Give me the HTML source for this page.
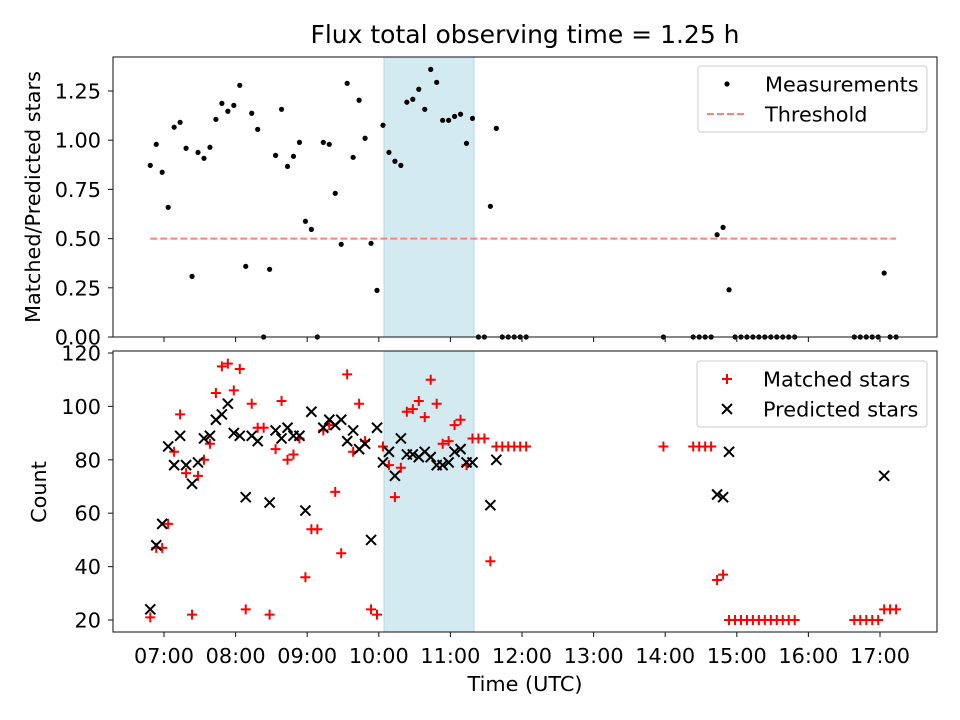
<!DOCTYPE html>
<html><head><meta charset="utf-8">
<style>
body{margin:0;background:#fff;}
svg{display:block;font-family:"DejaVu Sans","Liberation Sans",sans-serif;}
</style></head>
<body>
<svg id="chart" width="960" height="720" viewBox="0 0 960 720"></svg>
<script>
// minutes since midnight (UTC)
const times = [408.5,413.5,418.5,423.5,428.5,433.5,438.5,443.5,448.5,453.5,458.5,463.5,468.5,473.5,478.5,483.5,488.5,493.5,498.5,503.5,508.5,513.5,518.5,523.5,528.5,533.5,538.5,543.5,548.5,553.5,558.5,563.5,568.5,573.5,578.5,583.5,588.5,593.5,598.5,603.5,608.5,613.5,618.5,623.5,628.5,633.5,638.5,643.5,648.5,653.5,658.5,663.5,668.5,673.5,678.5,683.5,688.5,693.5,698.5,703.5,708.5,713.5,718.5,723.5,
838.5,
863.5,868.5,873.5,878.5,883.5,888.5,893.5,898.5,903.5,908.5,913.5,918.5,923.5,928.5,933.5,938.5,943.5,948.5,
998.5,1003.5,1008.5,1013.5,1018.5,1023.5,1028.5,1033.5];
const ratio = [0.872,0.979,0.837,0.659,1.066,1.091,0.959,0.308,0.938,0.908,0.964,1.106,1.187,1.147,1.177,1.279,0.359,1.137,1.055,0,0.344,0.923,1.157,0.867,0.918,0.989,0.588,0.547,0,0.989,0.979,0.730,0.471,1.289,0.913,1.203,1.010,0.476,0.237,1.076,0.938,0.893,0.872,1.193,1.208,1.259,1.157,1.360,1.294,1.101,1.101,1.121,1.132,0.984,1.111,0,0,0.664,1.060,0,0,0,0,0,
0,
0,0,0,0,0.52,0.557,0.24,0,0,0,0,0,0,0,0,0,0,0,
0,0,0,0,0,0.325,0,0];
const matched = [21,47,47,56,83,97,75,22,74,80,86,105,115,116,106,114,24,101,92,92,22,84,102,80,82,88,36,54,54,91,93,68,45,112,83,101,87,24,22,85,78,66,77,98,99,102,96,110,101,86,87,93,95,78,88,88,88,42,85,85,85,85,85,85,
85,
85,85,85,85,35,37,20,20,20,20,20,20,20,20,20,20,20,20,
20,20,20,20,20,24,24,24];
const predicted = [24,48,56,85,78,89,78,71,79,88,89,95,97,101,90,89,66,89,87,null,64,91,88,92,89,89,61,98,null,92,95,93,95,87,91,84,86,50,92,79,83,74,88,82,82,81,83,81,78,78,79,83,84,79,79,null,null,63,80,null,null,null,null,null,
null,
null,null,null,null,67,66,83,null,null,null,null,null,null,null,null,null,null,null,
null,null,null,null,null,74,null,null];
const threshold = [0.5];
const spanStart = [604.4];
const spanEnd = [679.8];
const xTicks = [420,480,540,600,660,720,780,840,900,960,1020];
const xTickLabels = ["07:00","08:00","09:00","10:00","11:00","12:00","13:00","14:00","15:00","16:00","17:00"];
const topTicks = [0,0.25,0.5,0.75,1.0,1.25];
const topTickLabels = ["0.00","0.25","0.50","0.75","1.00","1.25"];
const botTicks = [20,40,60,80,100,120];
const botTickLabels = ["20","40","60","80","100","120"];

const FS=20.8;
const NS="http://www.w3.org/2000/svg";
const svg=document.getElementById('chart');
function mk(tag,attrs,parent){const e=document.createElementNS(NS,tag);for(const k in attrs)e.setAttribute(k,attrs[k]);(parent||svg).appendChild(e);return e;}
const AX={l:113,r:937};
const T={t:57,b:337}, B={t:351,b:632};
function X(m){return 164+(m-420)/60*71.6;}
function YT(v){return 337-v*196.8;}
function YB(c){return 620-(c-20)*2.67;}

let t=mk('text',{x:525,y:43,'font-size':25,'text-anchor':'middle',fill:'#000'});t.textContent='Flux total observing time = 1.25 h';



function panel(P,name){
  const g=mk('g',{});
  
  
  mk('rect',{x:AX.l,y:P.t,width:AX.r-AX.l,height:P.b-P.t,fill:'#fff'},g);
  const sp=mk('rect',{x:X(spanStart[0]),y:P.t,width:X(spanEnd[0])-X(spanStart[0]),height:P.b-P.t,fill:'#d4eaf1',stroke:'#b3dbe6','stroke-width':1},g);
  
  
  return g;
}
function frame(P,g){
  mk('rect',{x:AX.l,y:P.t,width:AX.r-AX.l,height:P.b-P.t,fill:'none',stroke:'#222','stroke-width':1.1},g);
}
const gT=panel(T,'ratio-panel');
const th=mk('line',{x1:X(times[0]),x2:X(times[times.length-1]),y1:YT(threshold[0]),y2:YT(threshold[0]),stroke:'#ff7f7f','stroke-width':2,'stroke-dasharray':'7,3'},gT);


for(let i=0;i<times.length;i++){
  const c=mk('circle',{cx:X(times[i]),cy:YT(ratio[i]),r:2.6,fill:'#000'},gT);
  
  
}
frame(T,gT);
xTicks.forEach(m=>{mk('line',{x1:X(m),x2:X(m),y1:T.b,y2:T.b+5,stroke:'#222','stroke-width':1.1},gT);});
topTicks.forEach((v,i)=>{
  mk('line',{x1:AX.l-5,x2:AX.l,y1:YT(v),y2:YT(v),stroke:'#222','stroke-width':1.1},gT);
  const tx=mk('text',{x:AX.l-12,y:YT(v)+7.5,'font-size':FS,'text-anchor':'end'},gT);tx.textContent=topTickLabels[i];
  
  
});
let yl=mk('text',{x:40,y:197,'font-size':FS,'text-anchor':'middle',transform:'rotate(-90 40 197)'});yl.textContent='Matched/Predicted stars';



const gB=panel(B,'count-panel');
function plus(x,y,g){const p=mk('path',{d:`M${x-5},${y}H${x+5}M${x},${y-5}V${y+5}`,stroke:'#ff0000','stroke-width':2,fill:'none'},g);return p;}
function cross(x,y,g){const p=mk('path',{d:`M${x-5},${y-5}L${x+5},${y+5}M${x-5},${y+5}L${x+5},${y-5}`,stroke:'#000','stroke-width':2,fill:'none'},g);return p;}
for(let i=0;i<times.length;i++){
  const p=plus(X(times[i]),YB(matched[i]),gB);
  
  
}
for(let i=0;i<times.length;i++){
  if(predicted[i]===null)continue;
  const p=cross(X(times[i]),YB(predicted[i]),gB);
  
  
}
frame(B,gB);
xTicks.forEach((m,i)=>{
  mk('line',{x1:X(m),x2:X(m),y1:B.b,y2:B.b+5,stroke:'#222','stroke-width':1.1},gB);
  const tx=mk('text',{x:X(m),y:B.b+31,'font-size':FS,'text-anchor':'middle'},gB);tx.textContent=xTickLabels[i];
  
  
});
botTicks.forEach((v,i)=>{
  mk('line',{x1:AX.l-5,x2:AX.l,y1:YB(v),y2:YB(v),stroke:'#222','stroke-width':1.1},gB);
  const tx=mk('text',{x:AX.l-12,y:YB(v)+7.5,'font-size':FS,'text-anchor':'end'},gB);tx.textContent=botTickLabels[i];
  
  
});
let yl2=mk('text',{x:46,y:492,'font-size':FS,'text-anchor':'middle',transform:'rotate(-90 46 492)'});yl2.textContent='Count';


let xl=mk('text',{x:525,y:691,'font-size':FS,'text-anchor':'middle'});xl.textContent='Time (UTC)';



const lg1=mk('g',{});


mk('rect',{x:698,y:66,width:229,height:66,rx:3,fill:'#fff','fill-opacity':0.8,stroke:'#ccc'},lg1);
mk('circle',{cx:727,cy:84,r:2.6,fill:'#000'},lg1);
let a=mk('text',{x:765,y:91.5,'font-size':FS},lg1);a.textContent='Measurements';
mk('line',{x1:707,x2:747,y1:114,y2:114,stroke:'#ff7f7f','stroke-width':2,'stroke-dasharray':'7,3'},lg1);
a=mk('text',{x:765,y:121.5,'font-size':FS},lg1);a.textContent='Threshold';

const lg2=mk('g',{});


mk('rect',{x:697,y:361,width:230,height:66,rx:3,fill:'#fff','fill-opacity':0.8,stroke:'#ccc'},lg2);
plus(727,379,lg2);
a=mk('text',{x:763,y:386.5,'font-size':FS},lg2);a.textContent='Matched stars';
cross(727,409,lg2);
a=mk('text',{x:763,y:416.5,'font-size':FS},lg2);a.textContent='Predicted stars';
</script>
</body></html>
